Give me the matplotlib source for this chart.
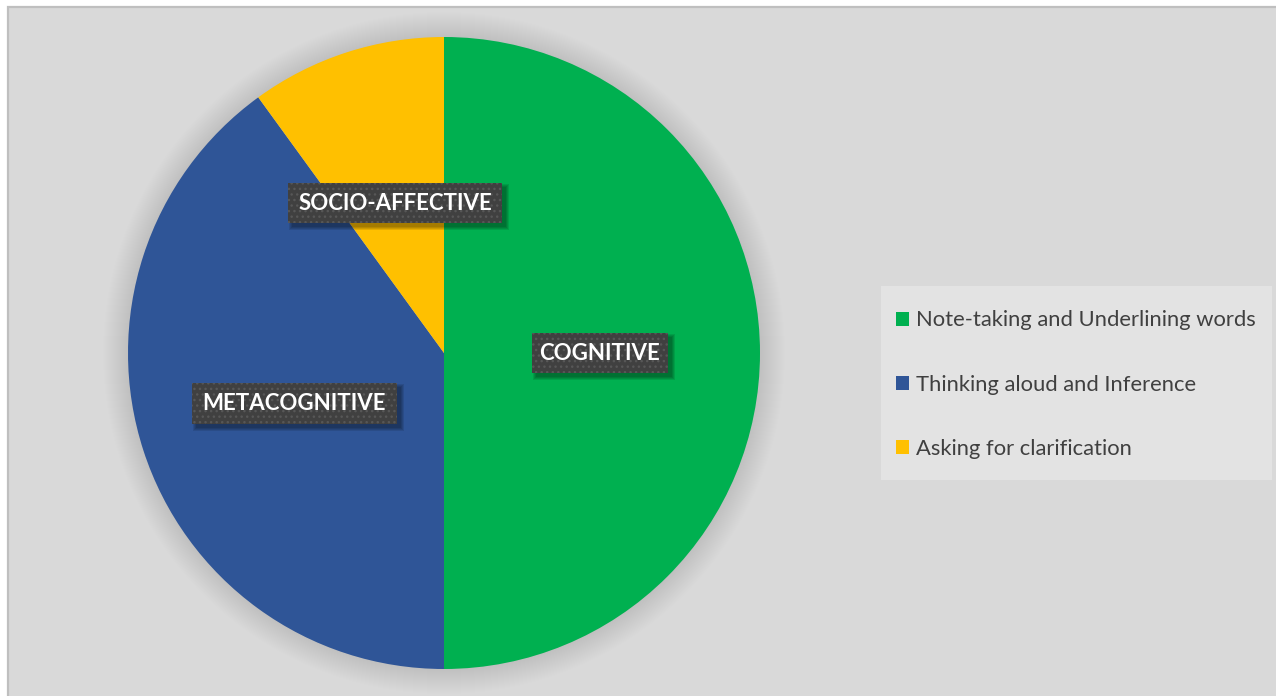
import matplotlib
matplotlib.use("Agg")
import matplotlib.pyplot as plt
from matplotlib.patches import Rectangle, Circle, Patch

# Data
categories = ["COGNITIVE", "METACOGNITIVE", "SOCIO-AFFECTIVE"]
strategies = ["Note-taking and Underlining words",
              "Thinking aloud and Inference",
              "Asking for clarification"]
shares = [50, 40, 10]
colors = ["#00b050", "#2f5597", "#ffc000"]

W, H = 1276, 696
fig = plt.figure(figsize=(W / 100, H / 100), dpi=100, facecolor="white")
ax = fig.add_axes([0, 0, 1, 1])


def fy(y):
    """Convert a top-down pixel row into the axes' bottom-up coordinate."""
    return H - y


# Chart area panel
ax.add_patch(Rectangle((8, fy(H + 20)), W + 20, H + 20 - 7,
                       facecolor="#d9d9d9", edgecolor="#bfbfbf",
                       linewidth=1.6, zorder=0))

cx, cy, r = 444, fy(353), 316

# Soft glow around the pie
for k in range(26):
    ax.add_patch(Circle((cx, cy), r + k, facecolor="black", edgecolor="none",
                        alpha=0.005, zorder=1))

wedges, _ = ax.pie(shares, colors=colors, startangle=90, counterclock=False,
                   center=(cx, cy), radius=r,
                   wedgeprops=dict(linewidth=0))
for w in wedges:
    w.set_zorder(2)

# Category call-outs: (centre x, centre y, box width, box height)
callouts = [(600, 353, 136, 40), (294, 403, 205, 41), (395, 203, 214, 40)]
for name, (bx, by, bw, bh) in zip(categories, callouts):
    # blurred drop shadow built from a few translucent layers
    for g in range(4):
        ax.add_patch(Rectangle((bx - bw / 2 + 4 - g, fy(by + bh / 2 + 4 + g)),
                               bw + 2 * g, bh + 2 * g,
                               facecolor="black", edgecolor="none",
                               alpha=0.1, zorder=3))
    ax.add_patch(Rectangle((bx - bw / 2, fy(by + bh / 2)), bw, bh,
                           facecolor="#404040", edgecolor="#575757",
                           linewidth=0, hatch="...", zorder=4))
    ax.text(bx, fy(by), name, ha="center", va="center", color="white",
            fontsize=16, fontweight="bold", family="Lato", zorder=5)

# Legend background and entries
ax.add_patch(Rectangle((881, fy(480)), 391, 194, facecolor="#e3e3e3",
                       edgecolor="none", zorder=5))
handles = [Patch(facecolor=c, edgecolor="none") for c in colors]
leg = ax.legend(handles, strategies, loc="upper left",
                bbox_to_anchor=(896, fy(310.5)),
                bbox_transform=ax.transData,
                prop=dict(family="Lato", size=15.8),
                labelcolor="#404040", frameon=False,
                handlelength=0.6, handleheight=0.6, handletextpad=0.32,
                labelspacing=2.02, borderpad=0, borderaxespad=0)
leg.set_zorder(6)

ax.set_xlim(0, W)
ax.set_ylim(0, H)
ax.set_aspect("equal")
ax.axis("off")

fig.savefig("out.png", dpi=100, facecolor="white")
